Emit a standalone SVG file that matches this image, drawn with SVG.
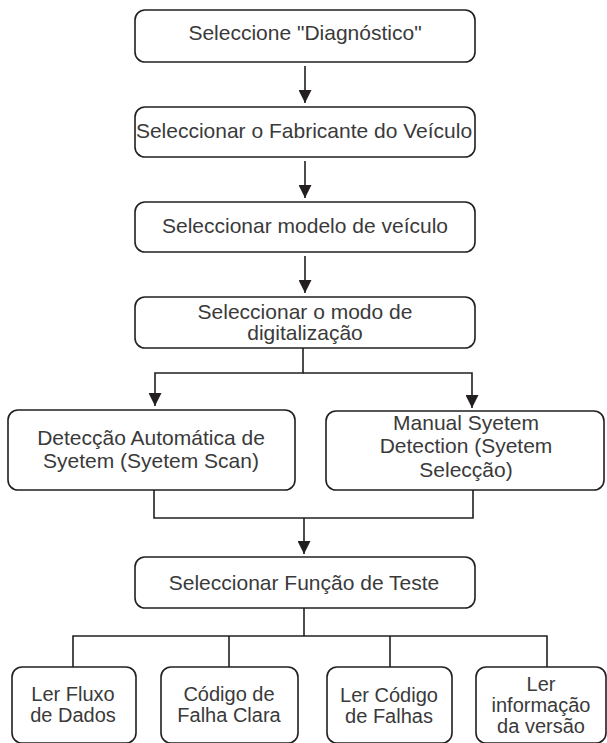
<svg xmlns="http://www.w3.org/2000/svg" width="607" height="743" viewBox="0 0 607 743">
<style>
.box{fill:#fff;stroke:#231f20;stroke-width:1.6}
.t{font-family:"Liberation Sans",Arial,sans-serif;font-size:21px;fill:#3a3a3a;text-anchor:middle}
.s{font-size:20px}
.c{fill:none;stroke:#231f20;stroke-width:1.6}
</style>
<defs>
<marker id="ah" markerWidth="13" markerHeight="13" refX="13" refY="6.5" orient="auto" markerUnits="userSpaceOnUse" viewBox="0 0 13 13">
<path d="M0,0 L13,6.5 L0,13 Z" fill="#231f20"/>
</marker>
</defs>
<rect width="607" height="743" fill="#fff"/>
<g id="connectors">
<path class="c" d="M305,66 V103" marker-end="url(#ah)"/>
<path class="c" d="M305,161 V198" marker-end="url(#ah)"/>
<path class="c" d="M305,256 V293" marker-end="url(#ah)"/>
<path class="c" d="M303,348 V373 H155 V406" marker-end="url(#ah)"/>
<path class="c" d="M303,373 H472 V408" marker-end="url(#ah)"/>
<path class="c" d="M154,490 V518 H473 V490"/>
<path class="c" d="M304,518 V554" marker-end="url(#ah)"/>
<path class="c" d="M304,608 V636"/>
<path class="c" d="M73,667 V636 H547 V667"/>
<path class="c" d="M229,636 V667"/>
<path class="c" d="M390,636 V667"/>
</g>
<g id="n1"><rect class="box" x="135" y="10" width="340" height="52" rx="10"/><text class="t" x="305" y="40">Seleccione "Diagnóstico"</text></g>
<g id="n2"><rect class="box" x="135" y="107" width="340" height="50" rx="10"/><text class="t" x="304" y="138">Seleccionar o Fabricante do Veículo</text></g>
<g id="n3"><rect class="box" x="135" y="202" width="340" height="50" rx="10"/><text class="t" x="305" y="233">Seleccionar modelo de veículo</text></g>
<g id="n4"><rect class="box" x="135" y="297" width="340" height="51" rx="10"/><text class="t" x="305" y="319">Seleccionar o modo de</text><text class="t" x="305" y="340">digitalização</text></g>
<g id="n5"><rect class="box" x="8" y="410" width="287" height="80" rx="10"/><text class="t" x="151" y="445">Detecção Automática de</text><text class="t" x="151" y="468">Syetem (Syetem Scan)</text></g>
<g id="n6"><rect class="box" x="326" y="411" width="278" height="79" rx="10"/><text class="t" x="466" y="430">Manual Syetem</text><text class="t" x="466" y="453">Detection (Syetem</text><text class="t" x="466" y="477">Selecção)</text></g>
<g id="n7"><rect class="box" x="135" y="557" width="340" height="51" rx="10"/><text class="t" x="304" y="590">Seleccionar Função de Teste</text></g>
<g id="n8"><rect class="box" x="12" y="667" width="124" height="76" rx="10"/><text class="t s" x="73" y="701">Ler Fluxo</text><text class="t s" x="73" y="722">de Dados</text></g>
<g id="n9"><rect class="box" x="161" y="667" width="137" height="76" rx="10"/><text class="t s" x="229" y="701">Código de</text><text class="t s" x="229" y="722">Falha Clara</text></g>
<g id="n10"><rect class="box" x="327" y="667" width="125" height="76" rx="10"/><text class="t s" x="389" y="702">Ler Código</text><text class="t s" x="389" y="723">de Falhas</text></g>
<g id="n11"><rect class="box" x="476" y="667" width="130" height="76" rx="10"/><text class="t s" x="541" y="691">Ler</text><text class="t s" x="541" y="712">informação</text><text class="t s" x="541" y="733">da versão</text></g>
</svg>
